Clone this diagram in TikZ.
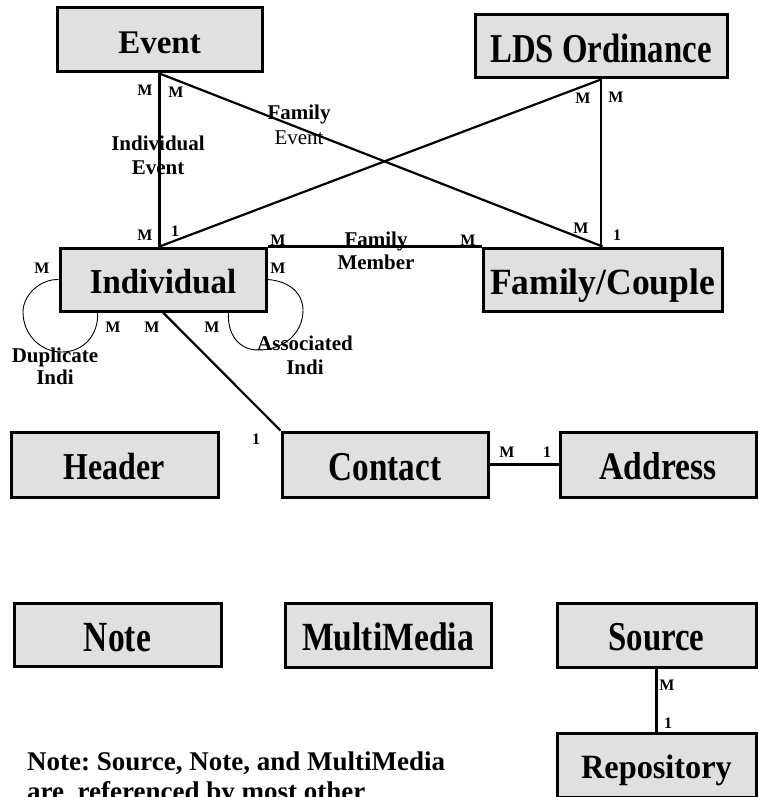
\documentclass[tikz,border=0pt]{standalone}
\usepackage{fontspec}
\setmainfont{Liberation Serif}
\usepackage{graphicx}
\frenchspacing
\definecolor{boxgray}{HTML}{E0E0E0}
\newcommand\cond[2]{\scalebox{#1}[1]{\vphantom{E}\smash{\raisebox{-2.5pt}{#2}}}}
\tikzset{
  ent/.style={draw=black, fill=boxgray, line width=3pt, inner sep=0pt, minimum height=63pt},
  fs/.style={font=\fontsize{#1pt}{#1pt}\selectfont\bfseries},
  card/.style={font=\fontsize{16pt}{16pt}\selectfont\bfseries, inner sep=0pt},
  rel/.style={font=\fontsize{21pt}{23pt}\selectfont\bfseries, align=center, inner sep=0pt},
  conn/.style={line width=2.2pt},
  selfloop/.style={line width=0.9pt},
}
\begin{document}
\begin{tikzpicture}[x=1pt, y=-1pt]
\path[use as bounding box, clip] (0,0) rectangle (759,797);

% entities
\node[ent, fs=33, minimum width=205pt, minimum height=64pt] (event) at (159.5,40) {\cond{1}{Event}};
\node[ent, fs=41, minimum width=252pt] (lds) at (601,46.5) {\cond{0.8}{LDS Ordinance}};
\node[ent, fs=35, minimum width=206pt] (indiv) at (163,279.5) {\cond{0.94}{Individual}};
\node[ent, fs=37, minimum width=239pt] (fam) at (602.5,279.5) {\cond{0.96}{Family/Couple}};
\node[ent, fs=38, minimum width=207pt, minimum height=65pt] (header) at (114.5,464.5) {\cond{0.84}{Header}};
\node[ent, fs=41, minimum width=206pt, minimum height=65pt] (contact) at (385,464.5) {\cond{0.81}{Contact}};
\node[ent, fs=39, minimum width=196pt, minimum height=65pt] (address) at (658,464.5) {\cond{0.86}{Address}};
\node[ent, fs=43, minimum width=207pt] (note) at (117.5,634.5) {\cond{0.78}{Note}};
\node[ent, fs=40, minimum width=206pt, minimum height=64pt] (mm) at (388,635) {\cond{0.84}{MultiMedia}};
\node[ent, fs=41, minimum width=199pt, minimum height=64pt] (source) at (656.5,635) {\cond{0.8}{Source}};
\node[ent, fs=34, minimum width=199pt, minimum height=64pt] (repo) at (656.5,765) {\cond{0.95}{Repository}};

% connectors
\coordinate (ij) at (event.south |- indiv.north);
\draw[conn] (event.south) -- (ij);
\draw[conn] (event.south) -- (fam.north);
\draw[conn] (lds.south) -- (ij);
\draw[conn] (lds.south) -- (lds.south |- fam.north);
\draw[conn] (indiv.north east) -- (fam.north west);
\draw[conn] (indiv.south) -- (contact.north west);
\draw[conn] (contact.east) -- (address.west);
\draw[conn] (source.south) -- (repo.north);

% self loops
\coordinate (dl) at ([xshift=39pt]indiv.south west);
\coordinate (dr) at ([xshift=-39pt]indiv.south east);
\draw[selfloop] (indiv.west) .. controls (40,279) and (23,295) .. (23,312)
  .. controls (23,334) and (40,352) .. (62,352)
  .. controls (84,352) and (99,334) .. (dl);
\draw[selfloop] (indiv.east) .. controls (290,281) and (303,294) .. (303,310)
  .. controls (303,334) and (283,350) .. (258,350)
  .. controls (238,350) and (227,333) .. (dr);

% relationship labels
\node[rel, font=\fontsize{21pt}{24pt}\selectfont\bfseries] (lie) at (158,155) {Individual\\Event};
\node[rel, font=\fontsize{21pt}{25pt}\selectfont] (lfe) at (299,125) {\textbf{Family}\\Event};
\node[rel] (lfm) at (376,251) {Family\\Member};
\node[rel, font=\fontsize{21pt}{22pt}\selectfont\bfseries] (ldi) at (55,366) {Duplicate\\Indi};
\node[rel, font=\fontsize{21pt}{24pt}\selectfont\bfseries] (lai) at (305,355) {Associated\\Indi};

% cardinalities
\node[card] (c1) at (145,90) {M};
\node[card] (c2) at (176,92) {M};
\node[card] (c3) at (145,235) {M};
\node[card] (c4) at (175,231) {1};
\node[card] (c5) at (583,98) {M};
\node[card] (c6) at (616,97) {M};
\node[card] (c7) at (581,228) {M};
\node[card] (c8) at (617,235) {1};
\node[card] (c9) at (278,240) {M};
\node[card] (c10) at (468,240) {M};
\node[card] (c11) at (42,268) {M};
\node[card] (c12) at (278,268) {M};
\node[card] (c13) at (113,327) {M};
\node[card] (c14) at (152,327) {M};
\node[card] (c15) at (212,327) {M};
\node[card] (c16) at (256,439) {1};
\node[card] (c17) at (507,452) {M};
\node[card] (c18) at (547,452) {1};
\node[card] (c19) at (667,685) {M};
\node[card] (c20) at (668,723) {1};

% note text
\node[font=\fontsize{27pt}{30pt}\selectfont\bfseries, anchor=base west, inner sep=0pt] (nt1) at (27,770) {Note: Source, Note, and MultiMedia};
\node[font=\fontsize{27pt}{30pt}\selectfont\bfseries, anchor=base west, inner sep=0pt] (nt2) at (27,800) {are~ referenced by most other};
\end{tikzpicture}
\end{document}
